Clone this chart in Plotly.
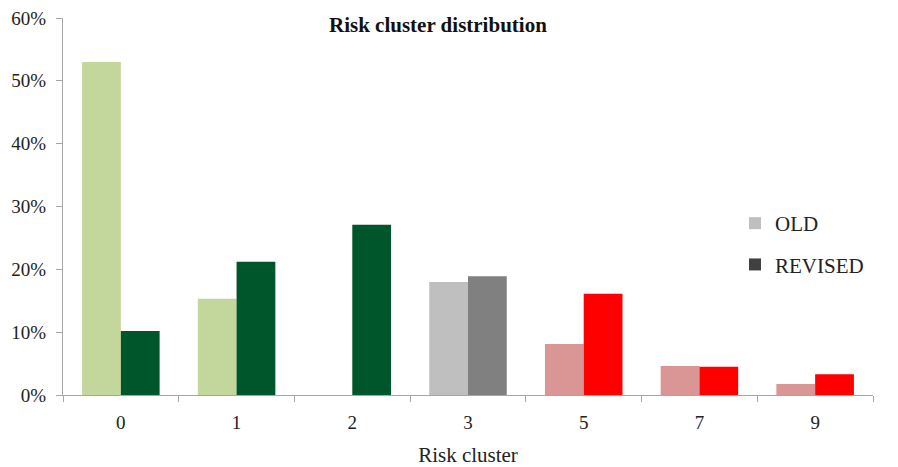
import plotly.graph_objects as go

categories = ["0", "1", "2", "3", "5", "7", "9"]
old_values = [0.530, 0.153, 0.0, 0.180, 0.081, 0.046, 0.0175]
revised_values = [0.102, 0.212, 0.271, 0.189, 0.161, 0.045, 0.033]
old_colors = ["#c3d69b", "#c3d69b", "#c3d69b", "#bfbfbf", "#d99694", "#d99694", "#d99694"]
revised_colors = ["#00562b", "#00562b", "#00562b", "#808080", "#ff0000", "#ff0000", "#ff0000"]
y_ticks = [0, 0.1, 0.2, 0.3, 0.4, 0.5, 0.6]

serif = "Liberation Serif, Times New Roman, serif"

fig = go.Figure()
fig.add_trace(go.Bar(x=categories, y=old_values, name="OLD",
                     marker=dict(color=old_colors, line=dict(width=0)),
                     showlegend=False))
fig.add_trace(go.Bar(x=categories, y=revised_values, name="REVISED",
                     marker=dict(color=revised_colors, line=dict(width=0)),
                     showlegend=False))
# legend-only entries with gray squares
fig.add_trace(go.Scatter(x=[None], y=[None], mode="markers", name="OLD",
                         legendgroup="old",
                         marker=dict(symbol="square", size=10, color="#bfbfbf")))
fig.add_trace(go.Scatter(x=[None], y=[None], mode="markers", name="REVISED",
                         legendgroup="rev",
                         marker=dict(symbol="square", size=10, color="#404040")))

plot_w = 898 - 63 - 25
plot_h = 467 - 18 - 72

fig.update_layout(
    width=898, height=467,
    margin=dict(l=63, r=25, t=18, b=72),
    paper_bgcolor="white", plot_bgcolor="white",
    barmode="group", bargap=0.33, bargroupgap=0,
    font=dict(family=serif, size=19, color="#222222"),
    legend=dict(x=(735 - 63) / plot_w, y=(395 - 203) / plot_h,
                xanchor="left", yanchor="top",
                font=dict(family=serif, size=21, color="#222222"),
                itemsizing="constant", tracegroupgap=11, itemwidth=30,
                bgcolor="rgba(0,0,0,0)"),
    annotations=[dict(text="<b>Risk cluster distribution</b>",
                      x=(438 - 63) / plot_w, y=(395 - 25) / plot_h,
                      xref="paper", yref="paper", showarrow=False,
                      xanchor="center", yanchor="middle",
                      font=dict(family=serif, size=21, color="#111111"))],
)

fig.update_xaxes(
    type="category", showline=True, linecolor="#a6a6a6", linewidth=1,
    ticks="outside", tickson="boundaries", ticklen=6, tickcolor="#a6a6a6",
    ticklabelstandoff=10, automargin=False,
    showgrid=False, tickfont=dict(family=serif, size=19, color="#222222"),
    title=dict(text="Risk cluster", font=dict(family=serif, size=21, color="#222222"),
               standoff=16),
)
fig.update_yaxes(
    range=[0, 0.6], tickvals=y_ticks, tickformat=".0%",
    showline=True, linecolor="#a6a6a6", linewidth=1,
    ticks="outside", ticklen=6, tickcolor="#a6a6a6",
    ticklabelstandoff=6, automargin=False,
    showgrid=False, zeroline=False,
    tickfont=dict(family=serif, size=19, color="#222222"),
)

fig.write_html("out.html")
